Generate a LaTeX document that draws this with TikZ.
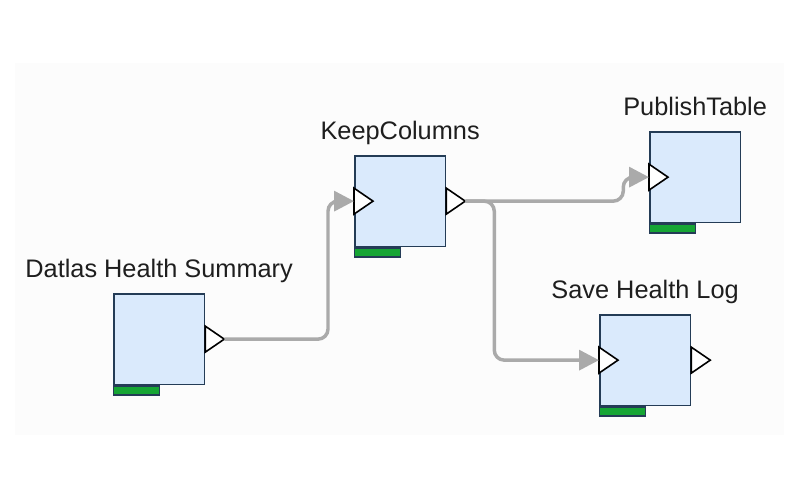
\documentclass[tikz,border=0pt]{standalone}
\usepackage{fontspec}
\setmainfont{Liberation Sans}
\usetikzlibrary{arrows.meta, positioning, calc}
\usepackage{xcolor}
\definecolor{fundo}{RGB}{252, 252, 252}
\definecolor{caixa}{RGB}{218, 234, 252}
\definecolor{borda}{RGB}{36, 60, 86}
\definecolor{barra}{RGB}{22, 165, 52}
\definecolor{fio}{RGB}{170, 170, 170}
\definecolor{letra}{RGB}{30, 30, 30}

\begin{document}
\begin{tikzpicture}[
    x=0.75pt, y=-0.75pt,
    bloco/.style={
        draw=borda,
        fill=caixa,
        line width=1.2pt,
        minimum width=68pt,
        minimum height=68pt,
        inner sep=0pt,
        anchor=north west
    },
    estado/.style={
        draw=borda,
        fill=barra,
        line width=1pt,
        minimum width=34.5pt,
        minimum height=6.75pt,
        inner sep=0pt,
        anchor=north west
    },
    rotulo/.style={
        text=letra,
        font=\fontsize{19pt}{22pt}\selectfont,
        inner sep=0pt,
        anchor=base
    },
    porta/.style={
        draw=black,
        fill=white,
        line width=1.2pt,
        line join=miter
    },
    fio/.style={
        draw=fio,
        line width=2.6pt,
        rounded corners=7.5pt,
        -{Triangle[length=15pt,width=15pt]}
    }
]

\useasboundingbox (0,0) rectangle (800,500);
\fill[fundo] (15,63) rectangle (784,435);

% ---------------- Datlas Health Summary ----------------

\node[bloco] (datlas) at (113,293) {};
\node[estado] (datlasbar) at (datlas.south west) {};
\node[rotulo] (datlaslbl) at ([yshift=12pt]datlas.north)
{Datlas Health Summary};

\draw[porta] (datlas.east) ++(0,-13) -- ++(19,13) coordinate (datlasout)
    -- ++(-19,13) -- cycle;

% ---------------- KeepColumns ----------------

\node[bloco] (keep) at (354,155) {};
\node[estado] (keepbar) at (keep.south west) {};
\node[rotulo] (keeplbl) at ([yshift=12pt]keep.north)
{KeepColumns};

\draw[porta] (keep.west) ++(0,-13) -- ++(19,13) -- ++(-19,13) -- cycle;
\coordinate (keepin) at (keep.west);
\draw[porta] (keep.east) ++(0,-13) -- ++(19,13) coordinate (keepout)
    -- ++(-19,13) -- cycle;

% ---------------- PublishTable ----------------

\node[bloco] (publish) at (649,131) {};
\node[estado] (publishbar) at (publish.south west) {};
\node[rotulo] (publishlbl) at ([yshift=12pt]publish.north)
{PublishTable};

\draw[porta] (publish.west) ++(0,-13) -- ++(19,13) -- ++(-19,13) -- cycle;
\coordinate (publishin) at (publish.west);

% ---------------- Save Health Log ----------------

\node[bloco] (save) at (599,314) {};
\node[estado] (savebar) at (save.south west) {};
\node[rotulo] (savelbl) at ([yshift=12pt]save.north)
{Save Health Log};

\draw[porta] (save.west) ++(0,-13) -- ++(19,13) -- ++(-19,13) -- cycle;
\coordinate (savein) at (save.west);
\draw[porta] (save.east) ++(0,-13) -- ++(19,13) -- ++(-19,13) -- cycle;

% ---------------- ligacoes ----------------

\draw[fio] (datlasout) -| ([xshift=-19.5pt]keepin) -- (keepin);
\draw[fio] (keepout) -- ++(29,0) |- (savein);
\draw[fio] (keepout) -- ++(158,0) |- (publishin);

\end{tikzpicture}
\end{document}
